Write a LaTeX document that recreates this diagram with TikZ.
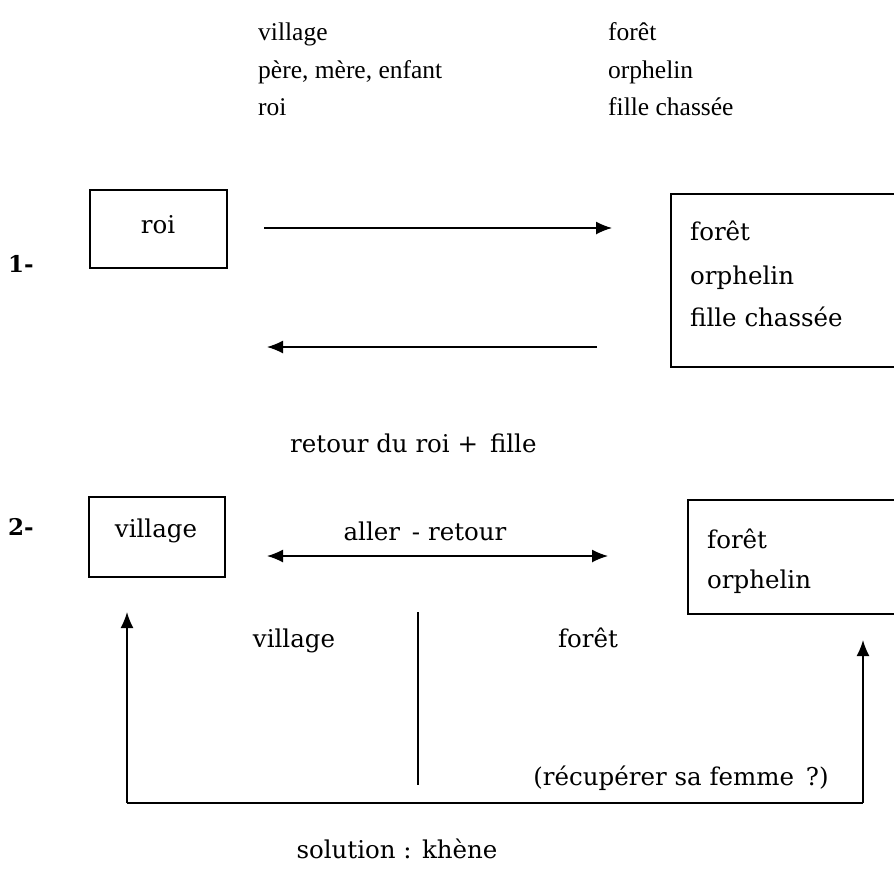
\documentclass[tikz,border=0pt]{standalone}
\usepackage{fontspec}
\setmainfont{Liberation Serif}
\newfontfamily\djs{DejaVu Serif}
\usetikzlibrary{arrows.meta}
\tikzset{
  box/.style={draw, line width=1.8pt, rectangle, inner sep=0pt},
  toptxt/.style={font=\fontsize{25.5}{25.5}\selectfont, anchor=base west, inner sep=0pt},
  txt/.style={font=\djs\fontsize{24.5}{24.5}\selectfont, anchor=base west, inner sep=0pt},
  ctxt/.style={font=\djs\fontsize{24.5}{24.5}\selectfont, anchor=base, inner sep=0pt},
  num/.style={font=\djs\bfseries\fontsize{23}{23}\selectfont, anchor=base west, inner sep=0pt},
  arr/.style={line width=1.4pt, -{Latex[length=16pt,width=13pt]}},
  darr/.style={line width=1.4pt, {Latex[length=16pt,width=13pt]}-{Latex[length=16pt,width=13pt]}},
  plain/.style={line width=1.8pt}
}
\begin{document}
\begin{tikzpicture}[x=1pt,y=-1pt]
\useasboundingbox[fill=white] (0,0) rectangle (894,876);
\clip (0,0) rectangle (894,876);
% top columns
\node[toptxt] (t1) at (258,40) {village};
\node[toptxt] (t2) at (258,78) {père, mère, enfant};
\node[toptxt] (t3) at (258,115) {roi};
\node[toptxt] (t4) at (608,40) {forêt};
\node[toptxt] (t5) at (608,78) {orphelin};
\node[toptxt] (t6) at (608,115) {fille chassée};
% part 1
\node[num] (n1) at (8,272) {1-};
\node[box, minimum width=137pt, minimum height=78pt] (roi) at (158.5,229) {};
\node[ctxt] (roit) at (158,233) {roi};
\node[box, minimum width=240pt, minimum height=173pt, anchor=north west] (f1) at (670,193) {};
\node[txt] (f1a) at (690,240) {forêt};
\node[txt] (f1b) at (690,284) {orphelin};
\node[txt] (f1c) at (690,326) {fille chassée};
\coordinate (a1s) at (264,228);
\coordinate (a1e) at (612,228);
\coordinate (a2s) at (597,347);
\coordinate (a2e) at (267,347);
\draw[arr] (a1s) -- (a1e);
\draw[arr] (a2s) -- (a2e);
\node[txt] (ret) at (290,452) {retour du roi + \,fille};
% part 2
\node[num] (n2) at (8,535) {2-};
\node[box, minimum width=136pt, minimum height=80pt, anchor=north west] (vil) at (88,496) {};
\node[ctxt] (vilt) at (156,537) {village};
\node[box, minimum width=230pt, minimum height=114pt, anchor=north west] (f2) at (687,499) {};
\node[txt] (f2a) at (707,548) {forêt};
\node[txt] (f2b) at (707,588) {orphelin};
\node[ctxt] (ar) at (425,540) {aller \,- retour};
\coordinate (d1) at (267,556);
\coordinate (d2) at (608,556);
\draw[darr] (d1) -- (d2);
\node[ctxt] (lv) at (294,647) {village};
\node[ctxt] (lf) at (588,647) {forêt};
\coordinate (v1) at (418,612);
\coordinate (v2) at (418,785);
\draw[plain] (v1) -- (v2);
\node[ctxt] (rec) at (681,785) {(récupérer sa femme \,?)};
\coordinate (bl) at (127,803);
\coordinate (br) at (863,803);
\coordinate (tl) at (127,612);
\coordinate (tr) at (863,640);
\draw[plain] (bl) -- (br);
\draw[arr, line width=1.6pt] (bl) -- (tl);
\draw[arr, line width=1.6pt] (br) -- (tr);
\node[ctxt] (sol) at (397,858) {solution : khène};
\end{tikzpicture}
\end{document}
